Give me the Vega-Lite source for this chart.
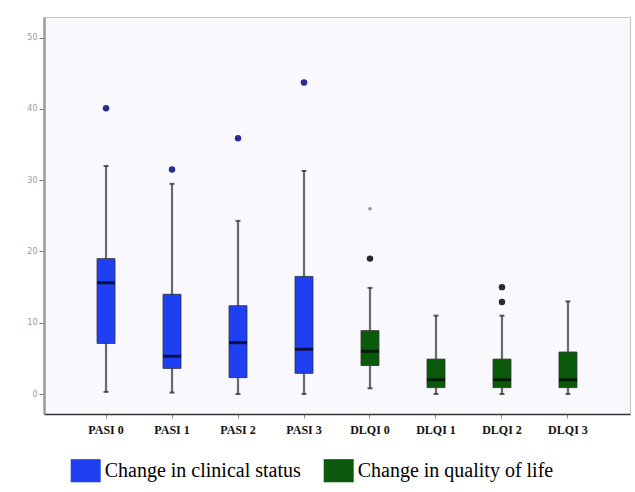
{
  "$schema": "https://vega.github.io/schema/vega-lite/v6.json",
  "width": 586,
  "height": 397,
  "autosize": {"type": "none"},
  "padding": {"left": 44, "top": 17, "right": 5, "bottom": 78},
  "background": "white",
  "datasets": {
    "boxes": [
      {"cat": "PASI 0", "group": "Change in clinical status", "lower": 0.3, "q1": 7.1, "median": 15.6, "q3": 19.0, "upper": 32.0},
      {"cat": "PASI 1", "group": "Change in clinical status", "lower": 0.2, "q1": 3.6, "median": 5.3, "q3": 14.0, "upper": 29.5},
      {"cat": "PASI 2", "group": "Change in clinical status", "lower": 0.0, "q1": 2.3, "median": 7.2, "q3": 12.4, "upper": 24.3},
      {"cat": "PASI 3", "group": "Change in clinical status", "lower": 0.0, "q1": 2.9, "median": 6.3, "q3": 16.5, "upper": 31.3},
      {"cat": "DLQI 0", "group": "Change in quality of life", "lower": 0.8, "q1": 4.0, "median": 6.0, "q3": 8.9, "upper": 14.9},
      {"cat": "DLQI 1", "group": "Change in quality of life", "lower": 0.0, "q1": 0.9, "median": 2.0, "q3": 4.9, "upper": 11.0},
      {"cat": "DLQI 2", "group": "Change in quality of life", "lower": 0.0, "q1": 0.9, "median": 2.0, "q3": 4.9, "upper": 11.0},
      {"cat": "DLQI 3", "group": "Change in quality of life", "lower": 0.0, "q1": 0.9, "median": 2.0, "q3": 5.9, "upper": 13.0}
    ],
    "outliers": [
      {"cat": "PASI 0", "kind": "PASI", "value": 40.1},
      {"cat": "PASI 1", "kind": "PASI", "value": 31.5},
      {"cat": "PASI 2", "kind": "PASI", "value": 35.9},
      {"cat": "PASI 3", "kind": "PASI", "value": 43.7},
      {"cat": "DLQI 0", "kind": "DLQI", "value": 19.0},
      {"cat": "DLQI 0", "kind": "extreme", "value": 26.0},
      {"cat": "DLQI 2", "kind": "DLQI", "value": 15.0},
      {"cat": "DLQI 2", "kind": "DLQI", "value": 12.9}
    ]
  },
  "config": {
    "view": {"fill": "#f8f8fd", "stroke": "#c4c4c8", "strokeWidth": 1},
    "axis": {"grid": false, "title": null}
  },
  "encoding": {
    "x": {
      "field": "cat",
      "type": "nominal",
      "sort": ["PASI 0", "PASI 1", "PASI 2", "PASI 3", "DLQI 0", "DLQI 1", "DLQI 2", "DLQI 3"],
      "scale": {"paddingInner": 0, "paddingOuter": 0.44},
      "axis": {
        "title": null,
        "labelAngle": 0,
        "labelFont": "Liberation Serif",
        "labelFontWeight": "bold",
        "labelFontSize": 12,
        "labelColor": "#111",
        "labelPadding": 6,
        "tickSize": 4,
        "tickColor": "#888",
        "domainColor": "#333",
        "domainWidth": 1.5
      }
    }
  },
  "layer": [
    {
      "data": {"name": "boxes"},
      "mark": {"type": "rule", "color": "#6a6a6a", "strokeWidth": 2.2},
      "encoding": {
        "y": {
          "field": "lower",
          "type": "quantitative",
          "scale": {"domain": [-2.8, 52.9], "nice": false, "zero": false},
          "axis": {
            "title": null,
            "values": [0, 10, 20, 30, 40, 50],
            "labelColor": "#9a9a9a",
            "labelFontSize": 8,
            "labelFont": "DejaVu Sans",
            "labelPadding": 2,
            "tickSize": 5,
            "tickColor": "#777",
            "domainColor": "#9a9a9a",
            "domainWidth": 2.5
          }
        },
        "y2": {"field": "upper"}
      }
    },
    {
      "data": {"name": "boxes"},
      "mark": {"type": "bar", "size": 18, "stroke": "#333", "strokeWidth": 0.8},
      "encoding": {
        "y": {"field": "q1", "type": "quantitative"},
        "y2": {"field": "q3"},
        "color": {
          "field": "group",
          "type": "nominal",
          "scale": {"domain": ["Change in clinical status", "Change in quality of life"], "range": ["#1f3ff2", "#0b5a0b"]},
          "legend": {
            "title": null,
            "orient": "none",
            "legendX": 26.7,
            "legendY": 438.5,
            "direction": "horizontal",
            "padding": 0,
            "symbolType": "M-1,-0.77L1,-0.77L1,0.77L-1,0.77Z",
            "symbolSize": 900,
            "symbolStrokeWidth": 0,
            "symbolOpacity": 1,
            "labelFont": "Liberation Serif",
            "labelFontSize": 20,
            "labelColor": "#000",
            "labelOffset": 4,
            "columnPadding": 22,
            "labelLimit": 400
          }
        }
      }
    },
    {
      "data": {"name": "boxes"},
      "mark": {"type": "tick", "color": "#000", "size": 18, "thickness": 3, "orient": "horizontal"},
      "encoding": {"y": {"field": "median", "type": "quantitative"}}
    },
    {
      "data": {"name": "boxes"},
      "mark": {"type": "tick", "color": "#222", "size": 5, "thickness": 2, "orient": "horizontal"},
      "encoding": {"y": {"field": "upper", "type": "quantitative"}}
    },
    {
      "data": {"name": "boxes"},
      "mark": {"type": "tick", "color": "#222", "size": 5, "thickness": 2, "orient": "horizontal"},
      "encoding": {"y": {"field": "lower", "type": "quantitative"}}
    },
    {
      "data": {"name": "outliers"},
      "transform": [{"filter": "datum.kind !== 'extreme'"}],
      "mark": {"type": "point", "filled": true, "size": 42, "opacity": 1},
      "encoding": {
        "y": {"field": "value", "type": "quantitative"},
        "color": {"field": "kind", "type": "nominal", "scale": {"domain": ["PASI", "DLQI"], "range": ["#2b2e8e", "#2a2a2a"]}, "legend": null}
      }
    },
    {
      "data": {"name": "outliers"},
      "transform": [{"filter": "datum.kind === 'extreme'"}],
      "mark": {"type": "point", "filled": true, "size": 12, "opacity": 1, "color": "#8a8f99"},
      "encoding": {"y": {"field": "value", "type": "quantitative"}}
    }
  ],
  "resolve": {"scale": {"color": "independent"}}
}
